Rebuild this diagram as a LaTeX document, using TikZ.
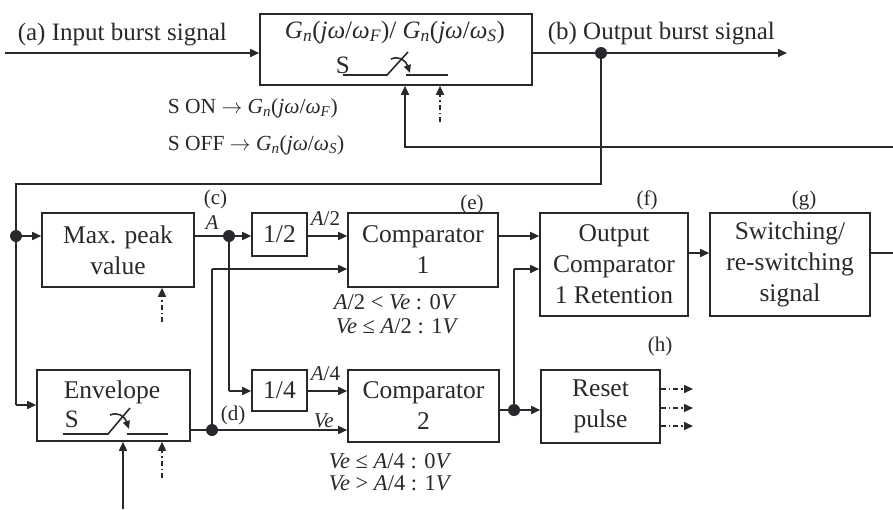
\documentclass[tikz,border=0pt]{standalone}
\usepackage{fontspec}
\setmainfont{Liberation Serif}
\usetikzlibrary{arrows.meta,calc}
\definecolor{ln}{RGB}{40,40,45}
\newcommand{\Gn}[1]{\textit{G}\textsubscript{\textit{n}}(\textit{jω}/\textit{ω}\textsubscript{\textit{#1}})}
\begin{document}
\begin{tikzpicture}[x=1pt,y=-1pt,line width=1.6pt,draw=ln,text=ln,
  box/.style={draw=ln,line width=1.6pt,inner sep=0pt,align=center,font=\fontsize{25.5}{31}\selectfont},
  arr/.style={-{Triangle[length=9pt,width=8pt]}},
  arrs/.style={-{Triangle[length=8pt,width=7pt]}},
  dd/.style={dash pattern=on 5pt off 3pt on 1.5pt off 3pt},
  lbl/.style={font=\fontsize{25}{30}\selectfont,inner sep=0pt},
  son/.style={font=\fontsize{21.5}{26}\selectfont,inner sep=0pt},
  sml/.style={font=\fontsize{21}{25}\selectfont,inner sep=0pt},
  cnd/.style={font=\fontsize{22.5}{26}\selectfont,inner sep=0pt},
  dot/.style={circle,fill=ln,draw=none,inner sep=0pt,minimum size=12pt}]
\useasboundingbox (0,0) rectangle (893,509);

% boxes
\node[box,minimum width=272pt,minimum height=71pt] (G) at (396,49.5) {};
\node[lbl,anchor=base] (Gt) at (395,38) {\Gn{F}/ \Gn{S}};
\node[box,minimum width=152pt,minimum height=74pt] (mp) at (118,250) {Max. peak\\value};
\node[box,minimum width=55pt,minimum height=43pt] (half) at (279.5,234.5) {1/2};
\node[box,minimum width=150pt,minimum height=74pt] (c1) at (423,250) {Comparator\\1};
\node[box,minimum width=148pt,minimum height=103pt] (oc) at (614,264.5) {Output\\Comparator\\1 Retention};
\node[box,minimum width=160pt,minimum height=103pt] (sw) at (790,264.5) {Switching/\\re-switching\\signal};
\node[box,minimum width=153pt,minimum height=71pt] (env) at (113.5,405.5) {};
\node[box,draw=none,anchor=base] (envt) at (112,398) {Envelope};
\node[box,minimum width=55pt,minimum height=41pt] (quarter) at (279.5,390.5) {1/4};
\node[box,minimum width=151pt,minimum height=72pt] (c2) at (423.5,406) {Comparator\\2};
\node[box,minimum width=119pt,minimum height=73pt] (rp) at (600.5,406.5) {Reset\\pulse};

% switches
\node[lbl,anchor=base west] (S1) at (335,73) {S};
\draw (343,75) -- (387,75) -- (408,52);
\draw[arrs] (391,59) .. controls (398,56) and (405,59) .. (410,73);
\draw (406,75) -- (448,75);
\node[lbl,anchor=base west] (S2) at (64,427) {S};
\draw (63,434) -- (108,434) -- (130,408);
\draw[arrs] (110,415) .. controls (117,412) and (124,415) .. (129,429);
\draw (127,434) -- (168,434);

% labels
\node[lbl,anchor=base west] (la) at (17,40) {(a) Input burst signal};
\node[lbl,anchor=base west] (lb) at (547,39) {(b) Output burst signal};
\node[son,anchor=base west] (sonl) at (167,113) {S ON $\rightarrow$ \Gn{F}};
\node[son,anchor=base west] (soff) at (167,150) {S OFF $\rightarrow$ \Gn{S}};
\node[sml,anchor=base] (lc) at (215.5,204) {(c)};
\node[sml,anchor=base] (lA) at (212,229) {\textit{A}};
\node[sml,anchor=base west] (lA2) at (310,225) {\textit{A}/2};
\node[sml,anchor=base] (le) at (472,209) {(e)};
\node[sml,anchor=base] (lf) at (647,205) {(f)};
\node[sml,anchor=base] (lg) at (804,205) {(g)};
\node[sml,anchor=base] (lh) at (660,351) {(h)};
\node[sml,anchor=base west] (lA4) at (310,380) {\textit{A}/4};
\node[sml,anchor=base west] (ld) at (220,420) {(d)};
\node[sml,anchor=base west] (lVe) at (313,427) {\textit{Ve}};
\node[cnd,anchor=base west] (k1) at (333,309) {\textit{A}/2 < \textit{Ve} : 0\textit{V}};
\node[cnd,anchor=base west] (k2) at (335,333) {\textit{Ve} ≤ \textit{A}/2 : 1\textit{V}};
\node[cnd,anchor=base west] (k3) at (328,468) {\textit{Ve} ≤ \textit{A}/4 : 0\textit{V}};
\node[cnd,anchor=base west] (k4) at (328,490) {\textit{Ve} > \textit{A}/4 : 1\textit{V}};

% dots
\node[dot] (bd) at (601,53) {};
\node[dot] (Ld) at (16,236) {};
\node[dot] (Ad) at (229,236) {};
\node[dot] (Dd) at (212,430) {};
\node[dot] (Rd) at (514,410) {};

% coordinates
\coordinate (ain) at (5,53);
\coordinate (bout) at (787,53);
\coordinate (fbR) at (893,147);
\coordinate (fbL) at (405,147);
\coordinate (dg) at (440,122);
\coordinate (t1) at (601,184);
\coordinate (t2) at (16,184);
\coordinate (t3) at (16,405);
\coordinate (q1) at (229,391);
\coordinate (v1) at (212,269);
\coordinate (r1) at (514,269);
\coordinate (g1) at (893,253);
\coordinate (mpd) at (162,322);
\coordinate (envs) at (123,509);
\coordinate (envd) at (162,478);
\coordinate (h1) at (693,389);
\coordinate (h2) at (693,408);
\coordinate (h3) at (693,426);

% connectors
\draw[arr] (ain) -- (ain -| G.west);
\draw[arr] (bout -| G.east) -- (bout);
\draw[arr] (fbR) -- (fbL) -- (fbL |- G.south);
\draw[arr,dd] (dg) -- (dg |- G.south);
\draw (bd.center) -- (t1) -- (t2) -- (t3);
\draw[arr] (t3) -- (t3 -| env.west);
\draw[arr] (Ld.center) -- (Ld -| mp.west);
\draw (mp.east |- Ad) -- (Ad.center);
\draw[arr] (Ad.center) -- (Ad -| half.west);
\draw[arr] (half.east |- Ad) -- (Ad -| c1.west);
\draw (Ad.center) -- (q1);
\draw[arr] (q1) -- (q1 -| quarter.west);
\draw[arr] (quarter.east |- q1) -- (q1 -| c2.west);
\draw[arr] (env.east |- Dd) -- (Dd -| c2.west);
\draw (Dd.center) -- (v1);
\draw[arr] (v1) -- (v1 -| c1.west);
\draw[arr] (c1.east |- Ad) -- (Ad -| oc.west);
\draw (c2.east |- Rd) -- (Rd.center);
\draw[arr] (Rd.center) -- (Rd -| rp.west);
\draw (Rd.center) -- (r1);
\draw[arr] (r1) -- (r1 -| oc.west);
\draw[arr] (oc.east |- g1) -- (sw.west |- g1);
\draw (sw.east |- g1) -- (g1);
\draw[arr,dd] (mpd) -- (mpd |- mp.south);
\draw[arr] (envs) -- (envs |- env.south);
\draw[arr,dd] (envd) -- (envd |- env.south);
\draw[arr,dd] (h1 -| rp.east) -- (h1);
\draw[arr,dd] (h2 -| rp.east) -- (h2);
\draw[arr,dd] (h3 -| rp.east) -- (h3);
\end{tikzpicture}
\end{document}
